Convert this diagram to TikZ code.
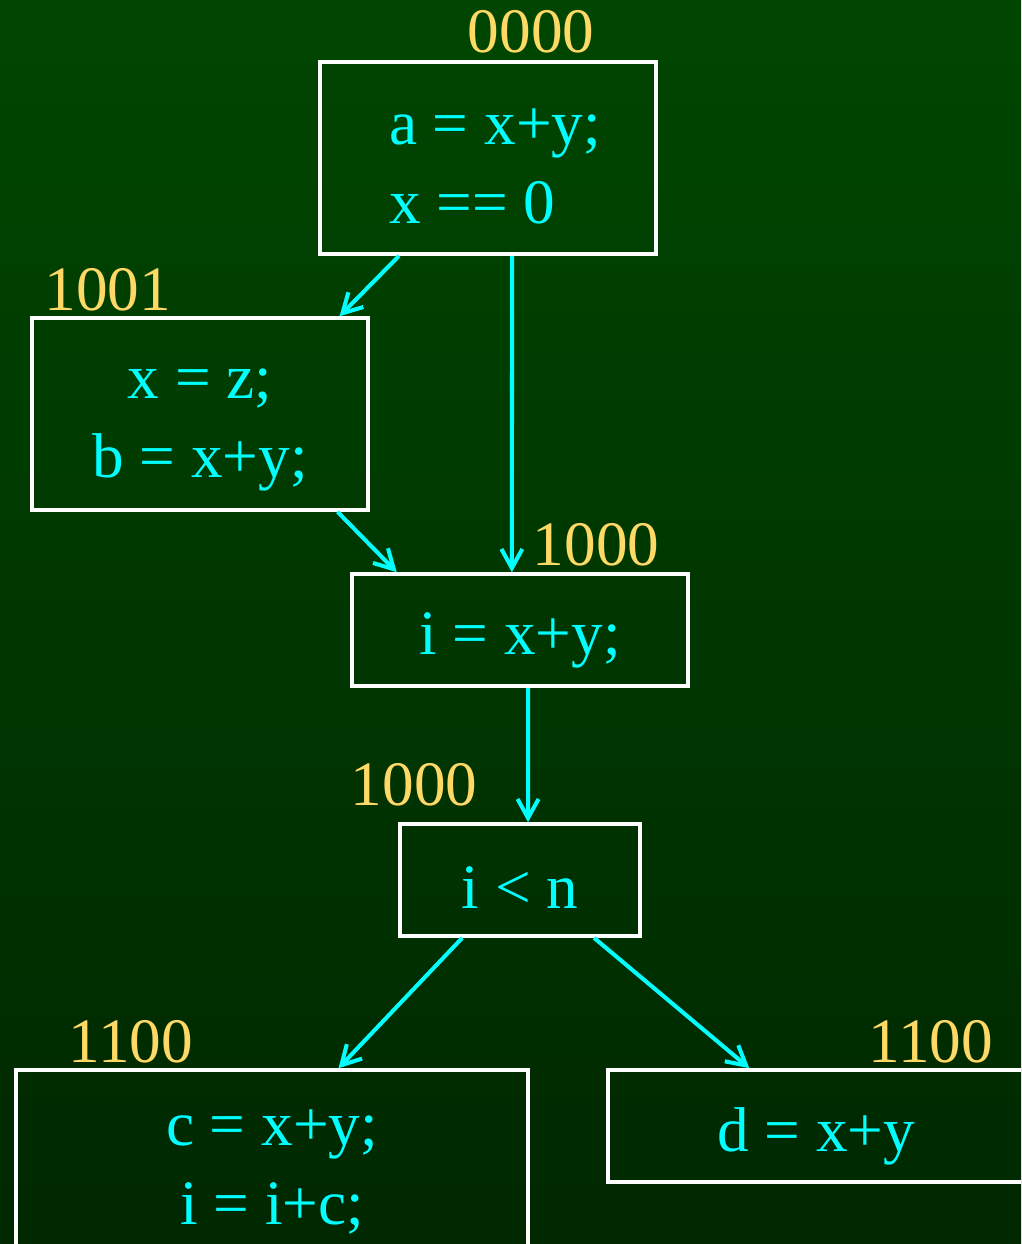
\documentclass[tikz,border=0pt]{standalone}
\usepackage{fontspec}
\setmainfont{Liberation Serif}
\usetikzlibrary{arrows.meta,calc}
\definecolor{bgtop}{RGB}{0,70,0}
\definecolor{bgbot}{RGB}{0,40,0}
\definecolor{codecol}{RGB}{0,255,255}
\definecolor{tagcol}{RGB}{255,217,102}
\begin{document}
\begin{tikzpicture}[x=0.02cm, y=-0.02cm,
  block/.style={draw=white, line width=2.1pt, inner sep=0pt},
  code/.style={text=codecol, inner sep=0pt, align=center, font=\fontsize{36}{45}\selectfont, yshift=-0.2cm},
  tag/.style={text=tagcol, inner sep=0pt, font=\fontsize{36}{44}\selectfont},
  flow/.style={draw=codecol, line width=2.3pt, -{Straight Barb[length=0.38cm,width=0.42cm]}}]
\useasboundingbox (0,0) rectangle (1021,1244);
\clip (0,0) rectangle (1021,1244);
\shade[top color=bgtop, bottom color=bgbot] (0,0) rectangle (1021,1244);

\node[block, minimum width=6.72cm, minimum height=3.84cm, label={[code, align=left, yshift=0.04cm, xshift=0.14cm]center:{a = x+y;\\ x == 0}}] (a) at (488,158) {};
\node[block, minimum width=6.72cm, minimum height=3.84cm, label={[code, yshift=-0.12cm]center:{x = z;\\ b = x+y;}}] (b) at (200,414) {};
\node[block, minimum width=6.72cm, minimum height=2.24cm, label={[code]center:{i = x+y;}}] (c) at (520,630) {};
\node[block, minimum width=4.8cm, minimum height=2.24cm, label={[code, yshift=0.04cm]center:{i < n}}] (d) at (520,880) {};
\node[block, minimum width=10.24cm, minimum height=3.68cm, label={[code]center:{c = x+y;\\ i = i+c;}}] (e) at (272,1162) {};
\node[block, minimum width=8.32cm, minimum height=2.24cm, label={[code]center:{d = x+y}}] (f) at (816,1126) {};

\node[tag] (ta) at (531,32) {0000};
\node[tag] (tb) at (108,290) {1001};
\node[tag] (tc) at (596,545) {1000};
\node[tag] (td) at (414,785) {1000};
\node[tag] (te) at (131,1042) {1100};
\node[tag] (tf) at (931,1042) {1100};

\draw[flow] ($(a.south west)!0.238!(a.south east)$) -- ($(b.north west)!0.911!(b.north east)$);
\draw[flow] ($(a.south west)!0.571!(a.south east)$) -- ($(c.north west)!0.476!(c.north east)$);
\draw[flow] ($(b.south west)!0.905!(b.south east)$) -- ($(c.north west)!0.137!(c.north east)$);
\draw[flow] ($(c.south west)!0.524!(c.south east)$) -- ($(d.north west)!0.533!(d.north east)$);
\draw[flow] ($(d.south west)!0.263!(d.south east)$) -- ($(e.north west)!0.629!(e.north east)$);
\draw[flow] ($(d.south west)!0.804!(d.south east)$) -- ($(f.north west)!0.341!(f.north east)$);
\end{tikzpicture}
\end{document}
